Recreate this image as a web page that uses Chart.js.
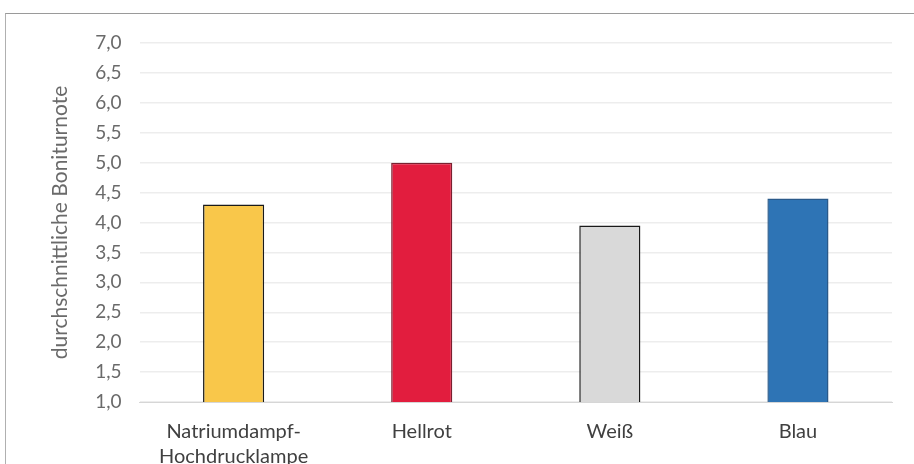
<!DOCTYPE html>
<html>
<head>
<meta charset="utf-8">
<script src="https://cdn.jsdelivr.net/npm/chart.js@4.4.0/dist/chart.umd.min.js"></script>
<style>
  html, body { margin: 0; padding: 0; background: #fff; }
  #wrap { position: relative; width: 914px; height: 464px; overflow: hidden; }
  #frame { position: absolute; left: 5px; top: 13px; width: 920px; height: 470px;
           border-top: 1px solid #9a9a9a; border-left: 1px solid #b0b0b0; }
  #box { position: absolute; left: 0; top: 0; width: 914px; height: 482px; }
</style>
</head>
<body>
<div id="wrap">
  <div id="frame"></div>
  <div id="box"><canvas id="chart"></canvas></div>
</div>
<script>
const categories = [["Natriumdampf-", "Hochdrucklampe"], "Hellrot", "Weiß", "Blau"];
const values = [4.3, 5.0, 3.95, 4.4];
const barColors = ["#F9C74A", "#E21D3E", "#D9D9D9", "#2E74B5"];
const barBorders = ["#1a1a1a", "#7a2030", "#1a1a1a", "#2a5a8a"];
const yAxisTitle = "durchschnittliche Boniturnote";

document.addEventListener("DOMContentLoaded", () => {
  const ctx = document.getElementById("chart");
  new Chart(ctx, {
    type: "bar",
    data: {
      labels: categories,
      datasets: [{
        data: values,
        backgroundColor: barColors,
        borderColor: barBorders,
        borderWidth: 1.5,
        barPercentage: 0.65,
        categoryPercentage: 0.5
      }]
    },
    options: {
      responsive: true,
      maintainAspectRatio: false,
      animation: false,
      layout: { padding: { left: 48, right: 22, top: 43, bottom: 4 } },
      plugins: { legend: { display: false }, tooltip: { enabled: false } },
      scales: {
        x: {
          grid: { display: false },
          border: { display: true, color: "#d6d6d6" },
          ticks: { color: "#404040", font: { family: "Lato", size: 20, lineHeight: 1.25 }, padding: 9 }
        },
        y: {
          min: 1, max: 7,
          ticks: {
            stepSize: 0.5,
            color: "#6a6a6a",
            font: { family: "Lato", size: 19 },
            padding: 18,
            callback: v => v.toFixed(1).replace(".", ",")
          },
          grid: { color: "#ededed", lineWidth: 1.5, drawTicks: false },
          border: { display: false },
          title: {
            display: true,
            text: yAxisTitle,
            color: "#6a6a6a",
            font: { family: "Lato", size: 21 },
            padding: { top: 0, bottom: 4 }
          }
        }
      }
    }
  });
});
</script>
</body>
</html>
